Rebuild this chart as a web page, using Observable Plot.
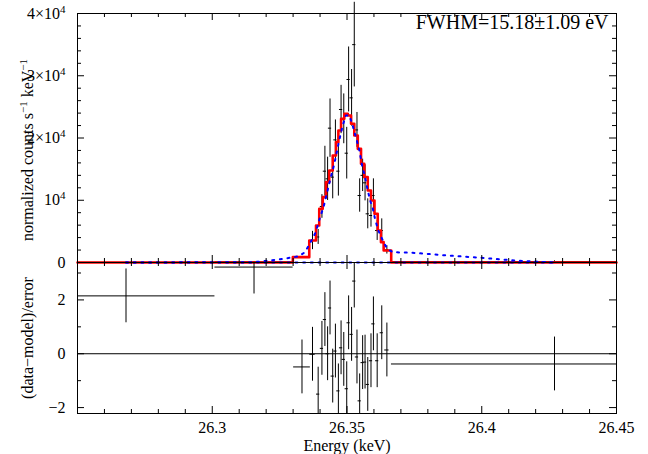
<!DOCTYPE html>
<html><head><meta charset="utf-8">
<script src="https://cdn.jsdelivr.net/npm/d3@7"></script>
<script src="https://cdn.jsdelivr.net/npm/@observablehq/plot@0.6"></script>
<style>
html,body{margin:0;padding:0;background:#fff;}
#chart{position:relative;width:648px;height:454px;background:#fff;overflow:hidden;}
#chart svg{position:absolute;left:0;}
#chart svg text{font-family:"Liberation Serif",serif;}
</style>
</head><body><div id="chart"></div>
<script>
// ---- data bins (keV) ----
const energy = [26.268, 26.3155, 26.3333, 26.3372, 26.3393, 26.3407, 26.3418, 26.3428, 26.3437, 26.3447,
  26.3457, 26.3468, 26.3478, 26.3488, 26.3499, 26.3506, 26.3517, 26.3527, 26.3537, 26.3547,
  26.3558, 26.3567, 26.3577, 26.3589, 26.3598, 26.3612, 26.3629, 26.3648, 26.427];
const halfWidth = [0.033, 0.0145, 0.0031, 0.0010, 0.0006, 0.0006, 0.0006, 0.0006, 0.0006, 0.0006,
  0.0006, 0.0006, 0.0006, 0.0006, 0.0006, 0.0006, 0.0006, 0.0006, 0.0006, 0.0006,
  0.0006, 0.0006, 0.0006, 0.0006, 0.0006, 0.0006, 0.0006, 0.0008, 0.0605];
const rate = [30, 120, 800, 3534, 4100, 9000, 14670, 13440, 21580, 13710,
  19700, 14670, 24580, 23080, 17560, 29400, 26450, 35000, 21300, 10760,
  14000, 12800, 7820, 7550, 10760, 5140, 5140, 2030, 150];
const rateErr = [15, 45, 140, 1470, 1200, 1900, 4000, 3480, 4690, 3480,
  3200, 4000, 3880, 4000, 4150, 5220, 4550, 6800, 2800, 2680,
  2600, 2900, 2410, 1870, 2680, 1600, 1870, 670, 120];
const resid = [2.15, 3.22, -0.49, -0.02, -1.5, 0.2, 1.27, 0.0, 1.7, -0.83,
  0.1, -1.38, 0.22, -0.21, -1.3, 1.15, 0.72, 2.7, -0.12, -1.75,
  -0.33, -0.31, -1.14, -0.26, 1.11, -0.26, 0.78, 0.14, -0.38];
const residErr = [1, 1, 1, 1, 1, 1, 1, 1, 1, 1, 1, 1, 1, 1, 1, 1, 1, 1, 1, 1, 1, 1, 1, 1, 1, 1, 1, 1, 1];

// ---- folded model (red step) ----
const modelEdges = [26.25, 26.3299, 26.3360, 26.3385, 26.3397, 26.3410, 26.3422, 26.3434, 26.3447, 26.3459,
  26.3468, 26.3478, 26.3490, 26.3503, 26.3515, 26.3527, 26.3540, 26.3552, 26.3564, 26.3577,
  26.3589, 26.3602, 26.3614, 26.3626, 26.3636, 26.3664, 26.45];
const modelLevels = [0, 857, 3534, 5944, 8622, 10496, 12906, 14780, 17190, 19330,
  21206, 23080, 23880, 23620, 22280, 20400, 18260, 15850, 13710, 11570,
  9960, 7820, 5140, 3270, 1930, 0];

// ---- model components (blue dotted) ----
const compEnergy = [26.268, 26.3155, 26.3265, 26.3322, 26.3344, 26.3372, 26.3385, 26.3400, 26.3413, 26.3428,
  26.3440, 26.3453, 26.3471, 26.3484, 26.3496, 26.3509, 26.3521, 26.3533, 26.3546, 26.3556,
  26.3567, 26.3577, 26.3586, 26.3596, 26.3604, 26.3616, 26.3633, 26.3649, 26.3670, 26.3744,
  26.3874, 26.3998, 26.4121, 26.427];
const compValue = [0, 50, 590, 1010, 1660, 3800, 4980, 7280, 8890, 11570,
  13710, 15850, 19600, 22010, 23620, 23620, 22010, 20130, 17990, 15580,
  13710, 11570, 9960, 8620, 7015, 5140, 3534, 2195, 1650, 1560,
  1125, 760, 320, 0];
const comp2Energy = [26.268, 26.427];
const comp2Value = [0, 0];

// ---- axes ----
const xTicks = [26.3, 26.35, 26.4, 26.45];
const xTickLabels = ["26.3", "26.35", "26.4", "26.45"];
const xMajorInner = [26.3, 26.35, 26.4];
const xMinor = [26.26, 26.27, 26.28, 26.29, 26.31, 26.32, 26.33, 26.34, 26.36, 26.37, 26.38, 26.39, 26.41, 26.42, 26.43, 26.44];
const yTicksTop = [0, 10000, 20000, 30000, 40000];
const yTickLabelsTop = ["0", "10^{4}", "2×10^{4}", "3×10^{4}", "4×10^{4}"];
const yMajorTopInner = [10000, 20000, 30000];
const yMinorTop = [2000, 4000, 6000, 8000, 12000, 14000, 16000, 18000, 22000, 24000, 26000, 28000, 32000, 34000, 36000, 38000];
const yTicksRes = [-2, 0, 2];
const yTickLabelsRes = ["−2", "0", "2"];
const yMinorRes = [-1, 1, 3];

const yLabelTop = "normalized counts s^{−1} keV^{−1}";
const yLabelRes = "(data−model)/error";
const xLabel = "Energy (keV)";
const note = "FWHM=15.18±1.09 eV";

// ---- build tables ----
const pts = energy.map((e, i) => ({e, hw: halfWidth[i], v: rate[i], err: rateErr[i], r: resid[i], rerr: residErr[i]}));
const modelPts = modelLevels.map((lv, i) => ({x: modelEdges[i], y: lv}))
  .concat([{x: modelEdges[modelEdges.length - 1], y: modelLevels[modelLevels.length - 1]}]);
const comp = compEnergy.map((e, i) => ({x: e, y: compValue[i]}));
const comp2 = comp2Energy.map((e, i) => ({x: e, y: comp2Value[i]}));
const topLab = new Map(yTicksTop.map((t, i) => [t, yTickLabelsTop[i]]));
const resLab = new Map(yTicksRes.map((t, i) => [t, yTickLabelsRes[i]]));
const xLab = new Map(xTicks.map((t, i) => [t, xTickLabels[i]]));

const W = 648, ML = 77, MR = 32;
const PW = W - ML - MR;
const TOPH = 262, TOPMT = 13;
const TPH = TOPH - TOPMT;
const BOTH = 192, BOTMB = 41;
const BPH = BOTH - BOTMB;
const MAJ = 7, MIN = 4;
const font = "Liberation Serif";

function edgeTicks(ph) {
  return [
    Plot.tickX(xMinor, {x: d => d, insetTop: ph - MIN, stroke: "black"}),
    Plot.tickX(xMajorInner, {x: d => d, insetTop: ph - MAJ, stroke: "black"}),
    Plot.tickX(xMinor, {x: d => d, insetBottom: ph - MIN, stroke: "black"}),
    Plot.tickX(xMajorInner, {x: d => d, insetBottom: ph - MAJ, stroke: "black"})
  ];
}

const topPlot = Plot.plot({
  width: W, height: TOPH, marginTop: TOPMT, marginBottom: 0, marginLeft: ML, marginRight: MR,
  style: {fontFamily: font, fontSize: "16px", background: "transparent", overflow: "visible", color: "black"},
  x: {domain: [26.25, 26.45], axis: null},
  y: {domain: [0, 40000]},
  marks: [
    Plot.axisY(yTicksTop, {tickSize: 0, tickPadding: 12, tickFormat: d => topLab.get(d), label: null, fontFamily: font, fontSize: 16}),
    Plot.ruleX(pts, {x: "e", y1: d => d.v - d.err, y2: d => d.v + d.err, stroke: "black", strokeWidth: 1}),
    Plot.ruleY(pts, {y: "v", x1: d => d.e - d.hw, x2: d => d.e + d.hw, stroke: "black", strokeWidth: 1, clip: true}),
    Plot.line(modelPts, {x: "x", y: "y", curve: "step-after", stroke: "#ff0000", strokeWidth: 2.6}),
    Plot.line(comp2, {x: "x", y: "y", stroke: "#0000ff", strokeWidth: 2, strokeDasharray: "2 5.7"}),
    Plot.line(comp, {x: "x", y: "y", stroke: "#0000ff", strokeWidth: 2, strokeDasharray: "2 5.7"}),
    ...edgeTicks(TPH),
    Plot.tickY(yMinorTop, {y: d => d, insetRight: PW - MIN, stroke: "black"}),
    Plot.tickY(yMajorTopInner, {y: d => d, insetRight: PW - MAJ, stroke: "black"}),
    Plot.tickY(yMinorTop, {y: d => d, insetLeft: PW - MIN, stroke: "black"}),
    Plot.tickY(yMajorTopInner, {y: d => d, insetLeft: PW - MAJ, stroke: "black"}),
    Plot.frame({stroke: "black"}),
    Plot.text([yLabelTop], {text: d => d, frameAnchor: "left", textAnchor: "middle", lineAnchor: "middle", rotate: -90, dx: -50, dy: 12, fontSize: 16, fontFamily: font}),
    Plot.text([note], {text: d => d, frameAnchor: "top-right", textAnchor: "end", lineAnchor: "middle", dx: -8, dy: 9, fontSize: 20, fontFamily: font})
  ]
});

const botPlot = Plot.plot({
  width: W, height: BOTH, marginTop: 0, marginBottom: BOTMB, marginLeft: ML, marginRight: MR,
  style: {fontFamily: font, fontSize: "16px", background: "transparent", overflow: "visible", color: "black"},
  x: {domain: [26.25, 26.45]},
  y: {domain: [-2.22, 3.39]},
  marks: [
    Plot.axisX(xTicks, {tickSize: 0, tickPadding: 8, tickFormat: d => xLab.get(d), label: null, fontFamily: font, fontSize: 16}),
    Plot.axisY(yTicksRes, {tickSize: 0, tickPadding: 12, tickFormat: d => resLab.get(d), label: null, fontFamily: font, fontSize: 16}),
    Plot.ruleY([0], {stroke: "black", strokeWidth: 1}),
    Plot.ruleX(pts, {x: "e", y1: d => d.r - d.rerr, y2: d => d.r + d.rerr, stroke: "black", strokeWidth: 1, clip: true}),
    Plot.ruleY(pts, {y: "r", x1: d => d.e - d.hw, x2: d => d.e + d.hw, stroke: "black", strokeWidth: 1, clip: true}),
    ...edgeTicks(BPH),
    Plot.tickY(yMinorRes, {y: d => d, insetRight: PW - MIN, stroke: "black"}),
    Plot.tickY(yTicksRes, {y: d => d, insetRight: PW - MAJ, stroke: "black"}),
    Plot.tickY(yMinorRes, {y: d => d, insetLeft: PW - MIN, stroke: "black"}),
    Plot.tickY(yTicksRes, {y: d => d, insetLeft: PW - MAJ, stroke: "black"}),
    Plot.frame({stroke: "black"}),
    Plot.text([yLabelRes], {text: d => d, frameAnchor: "left", textAnchor: "middle", lineAnchor: "middle", rotate: -90, dx: -50, dy: 0, fontSize: 16, fontFamily: font}),
    Plot.text([xLabel], {text: d => d, frameAnchor: "bottom", textAnchor: "middle", lineAnchor: "middle", dy: 32, fontSize: 16, fontFamily: font})
  ]
});

function supify(svg) {
  const ns = "http://www.w3.org/2000/svg";
  svg.querySelectorAll("text").forEach(t => {
    const s = t.textContent;
    if (!s.includes("^{")) return;
    const parts = s.split(/\^\{([^}]*)\}/);
    t.textContent = "";
    let shifted = false;
    parts.forEach((p, i) => {
      const ts = document.createElementNS(ns, "tspan");
      ts.textContent = p;
      if (i % 2 === 1) { ts.setAttribute("dy", "-6"); ts.setAttribute("font-size", "11"); shifted = true; }
      else if (shifted) { ts.setAttribute("dy", "6"); shifted = false; }
      t.appendChild(ts);
    });
  });
}
supify(topPlot); supify(botPlot);

const chart = document.getElementById("chart");
topPlot.style.top = "0px";
botPlot.style.top = TOPH + "px";
chart.appendChild(topPlot);
chart.appendChild(botPlot);
</script></body></html>
